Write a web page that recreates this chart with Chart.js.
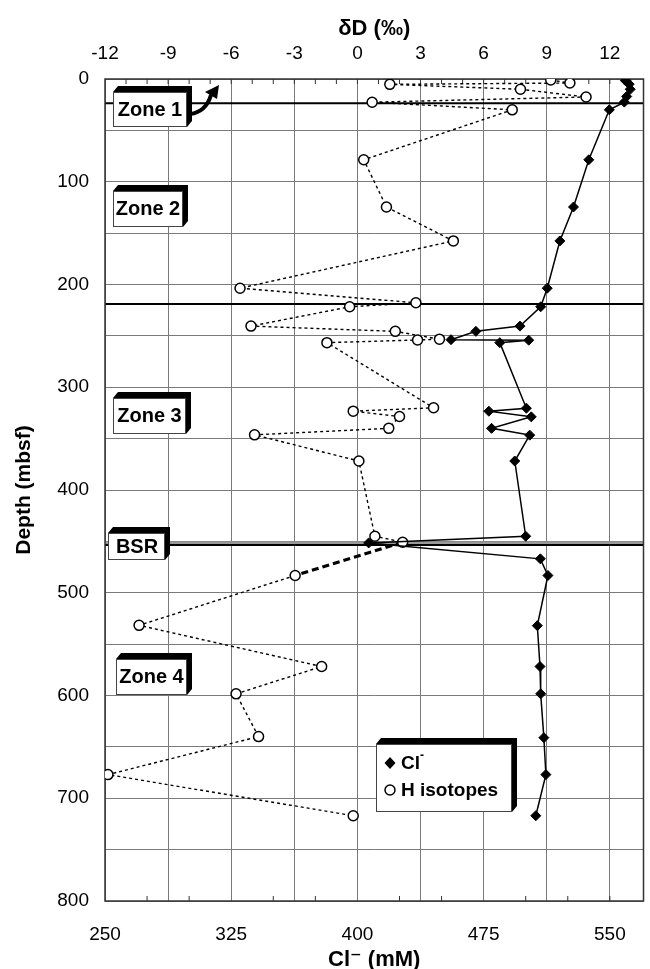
<!DOCTYPE html>
<html>
<head>
<meta charset="utf-8">
<script src="https://cdn.jsdelivr.net/npm/chart.js@4.4.1/dist/chart.umd.min.js"></script>
<style>
  html, body { margin: 0; padding: 0; background: #fff; }
  #wrap { width: 650px; height: 969px; }
</style>
</head>
<body>
<div id="wrap"><canvas id="chart" width="650" height="969"></canvas></div>
<script>
// Cl- (mM) vs depth
const clDepth = [1.5, 5, 10, 17, 22.5, 30, 78.6, 124.6, 157.6, 203.6, 221.7, 240.5, 245.6, 253.7, 254.2, 256.6,
    320.4, 323.3, 328.8, 340, 346.6, 371.8, 445, 451.5, 467, 483.2, 532, 571.8, 598.4, 641, 677, 717];
const clValue = [559.2, 561.5, 562.1, 560, 558.6, 549.7, 537.5, 528.4, 520.3, 512.8, 508.9, 496.6, 470.4, 455.6, 501.8, 484.6,
    500.4, 478.1, 503.3, 479.7, 502.4, 493.5, 500, 406.7, 508.7, 513.2, 506.9, 508.5, 508.9, 510.8, 512, 506];

// dD (permil) vs depth
const hDepth = [1, 3.9, 5.2, 10, 17.5, 22.6, 30, 78.6, 124.6, 157.6, 203.6, 217.8, 221.7, 240.5, 245.6, 253.2, 254, 256.6,
    320, 323.3, 328.5, 340, 346.3, 371.8, 445, 450.8, 483.2, 531.7, 571.8, 598.4, 640, 677, 717];
const hValue = [9.19, 10.1, 1.54, 7.75, 10.87, 0.7, 7.36, 0.3, 1.38, 4.56, -5.58, 2.78, -0.37, -5.06, 1.8, 3.9, 2.86, -1.45,
    3.62, -0.2, 2.0, 1.49, -4.89, 0.07, 0.83, 2.15, -2.96, -10.38, -1.7, -5.77, -4.7, -11.86, -0.2];
const boldSegment = 25; // BSR -> 483 m, bold dashed

// axes
const clGrid = [250, 287.5, 325, 362.5, 400, 437.5, 475, 512.5, 550];
const clLabels = [250, 325, 400, 475, 550];
const clMinor = [275, 300, 350, 375, 425, 450, 500, 525, 550];
const dDLabels = [-12, -9, -6, -3, 0, 3, 6, 9, 12];
const dDMinor = [-11, -10, -9, -8, -7, -6, -5, -4, -3, -2, -1, 0, 1, 2, 3, 4, 5, 6, 7, 8, 9, 10, 11, 12, 13];

// zone boundaries (depth)
const zoneLines = [23.5, 219];
const bsrDepth = 453.5;

Chart.defaults.font.family = "'Liberation Sans', Arial, 'DejaVu Sans', sans-serif";
Chart.defaults.color = '#000';

const FONT = "'Liberation Sans', Arial, 'DejaVu Sans', sans-serif";

function box3d(ctx, x0, y0, x1, y1) {
    const dx = 5, dy = -6;
    ctx.fillStyle = '#000';
    ctx.beginPath();
    ctx.moveTo(x0, y0);
    ctx.lineTo(x0 + dx, y0 + dy);
    ctx.lineTo(x1 + dx, y0 + dy);
    ctx.lineTo(x1 + dx, y1 + dy);
    ctx.lineTo(x1, y1);
    ctx.closePath();
    ctx.fill();
    ctx.fillStyle = '#fff';
    ctx.fillRect(x0, y0, x1 - x0, y1 - y0);
    ctx.strokeStyle = '#444';
    ctx.lineWidth = 1;
    ctx.strokeRect(x0 + 0.5, y0 + 0.5, x1 - x0 - 1, y1 - y0 - 1);
}

function label(ctx, text, cx, cy) {
    ctx.fillStyle = '#000';
    ctx.font = 'bold 20px ' + FONT;
    ctx.textAlign = 'center';
    ctx.textBaseline = 'middle';
    ctx.fillText(text, cx, cy);
}

const decor = {
    id: 'decor',
    beforeDatasetsDraw(chart) {
        const { ctx, chartArea: a, scales } = chart;
        ctx.save();
        // zone lines
        ctx.strokeStyle = '#000';
        ctx.lineWidth = 2;
        zoneLines.forEach((d) => {
            const y = scales.y.getPixelForValue(d);
            ctx.beginPath();
            ctx.moveTo(a.left, y);
            ctx.lineTo(a.right, y);
            ctx.stroke();
        });
        const yb = scales.y.getPixelForValue(bsrDepth);
        ctx.strokeStyle = '#9a9a9a';
        ctx.lineWidth = 3;
        ctx.beginPath();
        ctx.moveTo(a.left, yb - 2);
        ctx.lineTo(a.right, yb - 2);
        ctx.stroke();
        ctx.strokeStyle = '#000';
        ctx.lineWidth = 2;
        ctx.beginPath();
        ctx.moveTo(a.left, yb);
        ctx.lineTo(a.right, yb);
        ctx.stroke();

        // frame + inward minor ticks
        ctx.strokeStyle = '#333';
        ctx.lineWidth = 1.5;
        ctx.strokeRect(a.left, a.top, a.right - a.left, a.bottom - a.top);
        ctx.lineWidth = 1;
        clMinor.forEach((v) => {
            const x = scales.x.getPixelForValue(v);
            ctx.beginPath();
            ctx.moveTo(x, a.bottom);
            ctx.lineTo(x, a.bottom - 5);
            ctx.stroke();
        });
        dDMinor.forEach((v) => {
            const x = scales.x2.getPixelForValue(v);
            ctx.beginPath();
            ctx.moveTo(x, a.top);
            ctx.lineTo(x, a.top + 5);
            ctx.stroke();
        });
        ctx.restore();
    },
    afterDatasetsDraw(chart) {
        const { ctx } = chart;
        ctx.save();
        box3d(ctx, 113, 92, 187, 127);
        label(ctx, 'Zone 1', 150, 110);
        // curved arrow
        ctx.strokeStyle = '#000';
        ctx.lineWidth = 4;
        ctx.beginPath();
        ctx.moveTo(190, 114);
        ctx.quadraticCurveTo(206, 112, 211, 95);
        ctx.stroke();
        ctx.fillStyle = '#000';
        ctx.beginPath();
        ctx.moveTo(219, 85);
        ctx.lineTo(217, 99);
        ctx.lineTo(205, 92);
        ctx.closePath();
        ctx.fill();

        box3d(ctx, 113, 191, 183, 227);
        label(ctx, 'Zone 2', 148, 209);
        box3d(ctx, 113, 398, 186, 434);
        label(ctx, 'Zone 3', 149.5, 416);
        box3d(ctx, 108, 533, 165, 560);
        label(ctx, 'BSR', 137, 547);
        box3d(ctx, 116, 659, 187, 695);
        label(ctx, 'Zone 4', 151.5, 677);

        // legend
        box3d(ctx, 376, 744, 512, 812);
        ctx.fillStyle = '#000';
        ctx.beginPath();
        ctx.moveTo(390, 757); ctx.lineTo(395.5, 763); ctx.lineTo(390, 769); ctx.lineTo(384.5, 763);
        ctx.closePath();
        ctx.fill();
        ctx.fillStyle = '#fff';
        ctx.strokeStyle = '#000';
        ctx.lineWidth = 1.5;
        ctx.beginPath();
        ctx.arc(390, 790, 5, 0, Math.PI * 2);
        ctx.fill();
        ctx.stroke();
        ctx.fillStyle = '#000';
        ctx.font = 'bold 19px ' + FONT;
        ctx.textAlign = 'left';
        ctx.textBaseline = 'middle';
        ctx.fillText('Cl', 401, 764);
        ctx.font = 'bold 12px ' + FONT;
        ctx.fillText('-', 420, 756);
        ctx.font = 'bold 19px ' + FONT;
        ctx.fillText('H isotopes', 401, 791);
        ctx.restore();
    },
};

const tickFont = { size: 19 };

new Chart(document.getElementById('chart'), {
    type: 'scatter',
    data: {
        datasets: [
            {
                label: 'Cl-',
                data: clDepth.map((d, i) => ({ x: clValue[i], y: d })),
                xAxisID: 'x',
                yAxisID: 'y',
                showLine: true,
                borderColor: '#000',
                borderWidth: 1.5,
                pointStyle: 'rectRot',
                pointRadius: 5,
                pointBackgroundColor: '#000',
                pointBorderColor: '#000',
                pointBorderWidth: 1,
            },
            {
                label: 'H isotopes',
                data: hDepth.map((d, i) => ({ x: hValue[i], y: d })),
                xAxisID: 'x2',
                yAxisID: 'y',
                showLine: true,
                borderColor: '#000',
                borderWidth: 1.4,
                borderDash: [3, 3],
                segment: {
                    borderWidth: (c) => (c.p0DataIndex === boldSegment ? 3 : 1.4),
                    borderDash: (c) => (c.p0DataIndex === boldSegment ? [7, 4] : [3, 3]),
                },
                pointStyle: 'circle',
                pointRadius: 5,
                pointBackgroundColor: '#fff',
                pointBorderColor: '#000',
                pointBorderWidth: 1.5,
            },
        ],
    },
    options: {
        responsive: false,
        animation: false,
        layout: { padding: { left: 0, right: 4, top: 0, bottom: 0 } },
        plugins: { legend: { display: false }, tooltip: { enabled: false } },
        scales: {
            x: {
                type: 'linear',
                position: 'bottom',
                min: 250,
                max: 570,
                afterBuildTicks: (s) => { s.ticks = clGrid.map((v) => ({ value: v })); },
                afterFit: (s) => { s.height = 68; },
                ticks: {
                    callback: (v) => (clLabels.includes(v) ? String(v) : ''),
                    padding: 22, autoSkip: false, maxRotation: 0, font: tickFont, color: '#000',
                },
                grid: { color: '#7a7a7a', lineWidth: 1, drawTicks: false },
                border: { display: false },
                title: { display: true, text: 'Cl⁻ (mM)', font: { size: 22, weight: 'bold', lineHeight: 1 }, padding: { top: 0, bottom: -2 }, color: '#000' },
            },
            x2: {
                type: 'linear',
                position: 'top',
                min: -12,
                max: 13.6,
                afterBuildTicks: (s) => { s.ticks = dDLabels.map((v) => ({ value: v })); },
                afterFit: (s) => { s.height = 79; },
                ticks: { padding: 14, autoSkip: false, maxRotation: 0, font: tickFont, color: '#000' },
                grid: { display: false, drawTicks: false },
                border: { display: false },
                title: { display: true, text: 'δD (‰)', font: { size: 22, weight: 'bold', lineHeight: 1.2 }, padding: { top: 16, bottom: 0 }, color: '#000' },
            },
            y: {
                type: 'linear',
                reverse: true,
                min: 0,
                max: 800,
                afterFit: (s) => { s.width = 105; },
                ticks: {
                    stepSize: 50,
                    callback: (v) => (v % 100 === 0 ? String(v) : ''),
                    padding: 16, autoSkip: false, font: tickFont, color: '#000',
                },
                grid: { color: '#7a7a7a', lineWidth: 1, drawTicks: false },
                border: { display: false },
                title: { display: true, text: 'Depth (mbsf)', font: { size: 21, weight: 'bold', lineHeight: 1.2 }, padding: { top: 12, bottom: 0 }, color: '#000' },
            },
        },
    },
    plugins: [decor],
});
</script>
</body>
</html>
